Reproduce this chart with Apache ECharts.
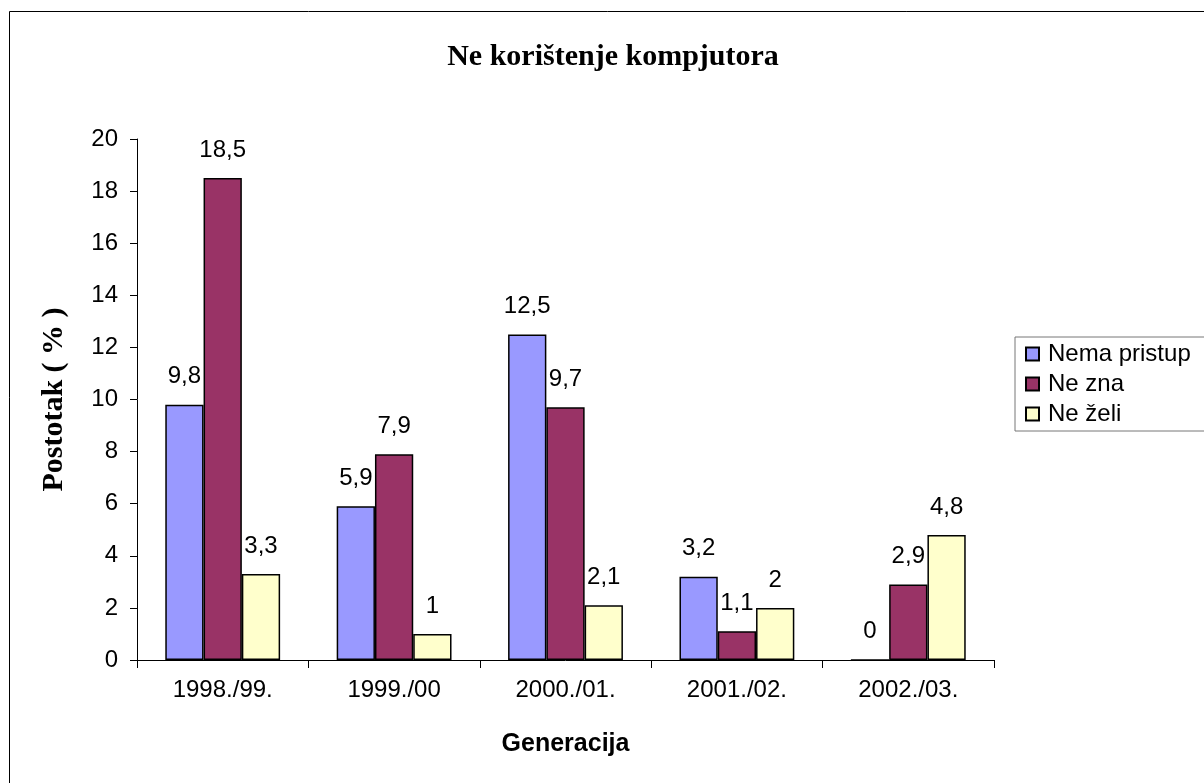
<!DOCTYPE html>
<html>
<head>
<meta charset="utf-8">
<title>Ne korištenje kompjutora</title>
<script src="https://cdn.jsdelivr.net/npm/echarts@6/dist/echarts.min.js"></script>
<style>
  html, body { margin: 0; padding: 0; background: #fff; }
  #main { width: 1204px; height: 783px; }
</style>
</head>
<body>
<div id="main"></div>
<script>
// podaci
var generacije = ['1998./99.', '1999./00', '2000./01.', '2001./02.', '2002./03.'];
var nemaPristup = [9.8, 5.9, 12.5, 3.2, 0];
var neZna = [18.5, 7.9, 9.7, 1.1, 2.9];
var neZeli = [3.3, 1, 2.1, 2, 4.8];

var myChart = echarts.init(document.getElementById('main'));

// oznake s decimalnim zarezom
function zarez(p) {
  return String(p.value).replace('.', ',');
}

function serija(ime, data, boja) {
  return {
    name: ime,
    type: 'bar',
    data: data,
    barGap: 0,
    barCategoryGap: '33%',
    itemStyle: { color: boja, borderColor: '#000', borderWidth: 1.5 },
    label: {
      show: true,
      position: 'top',
      distance: 16,
      color: '#000',
      fontFamily: 'Arial',
      fontSize: 24,
      formatter: zarez
    }
  };
}

var option = {
  animation: false,
  backgroundColor: '#fff',
  graphic: [{
    type: 'rect',
    left: 7, top: 9,
    shape: { width: 1300, height: 900 },
    style: { fill: 'none', stroke: '#000', lineWidth: 1 }
  }],
  title: {
    text: 'Ne korištenje kompjutora',
    left: 608,
    textAlign: 'center',
    top: 37,
    textStyle: { fontFamily: 'Liberation Serif', fontWeight: 'bold', fontSize: 30, color: '#000' }
  },
  legend: {
    orient: 'vertical',
    left: 1015,
    top: 337,
    padding: [5, 60, 5, 10],
    itemGap: 6,
    itemWidth: 13,
    itemHeight: 13,
    icon: 'rect',
    borderColor: '#777',
    borderWidth: 1,
    textStyle: { fontFamily: 'Arial', fontSize: 24, color: '#000', padding: [0, 0, 0, 4] },
    data: ['Nema pristup', 'Ne zna', 'Ne želi']
  },
  grid: { left: 137, right: 210, top: 139, bottom: 123 },
  xAxis: {
    type: 'category',
    data: generacije,
    name: 'Generacija',
    nameLocation: 'middle',
    nameGap: 72,
    nameTextStyle: { fontFamily: 'Arial', fontWeight: 'bold', fontSize: 25, color: '#000' },
    axisLine: { lineStyle: { color: '#000', width: 1 } },
    axisTick: { show: true, length: 8, lineStyle: { color: '#000' } },
    axisLabel: { color: '#000', fontFamily: 'Arial', fontSize: 24, margin: 18 }
  },
  yAxis: {
    type: 'value',
    min: 0,
    max: 20,
    interval: 2,
    name: 'Postotak ( % )',
    nameLocation: 'middle',
    nameGap: 68,
    nameTextStyle: { fontFamily: 'Liberation Serif', fontWeight: 'bold', fontSize: 30, color: '#000' },
    splitLine: { show: false },
    axisLine: { show: true, lineStyle: { color: '#000', width: 1 } },
    axisTick: { show: true, length: 7, lineStyle: { color: '#000' } },
    axisLabel: { color: '#000', fontFamily: 'Arial', fontSize: 24, margin: 19 }
  },
  series: [
    serija('Nema pristup', nemaPristup, '#9999FF'),
    serija('Ne zna', neZna, '#993366'),
    serija('Ne želi', neZeli, '#FFFFCC')
  ]
};

myChart.setOption(option);
</script>
</body>
</html>
